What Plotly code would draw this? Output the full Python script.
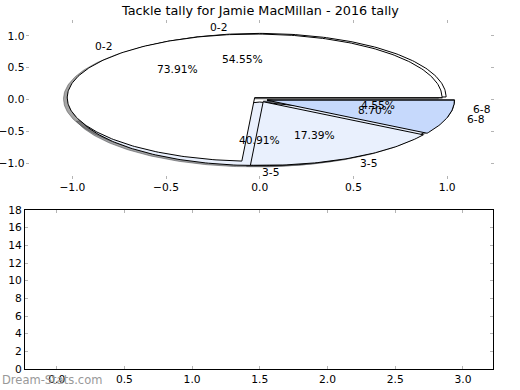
import numpy as np
import plotly.graph_objects as go

# ---- data ----
title_text = "Tackle tally for Jamie MacMillan - 2016 tally"
labels = ["0-2", "3-5", "6-8"]
pie1_values = [12, 9, 1]    # 54.55%, 40.91%, 4.55%
pie2_values = [17, 4, 2]    # 73.91%, 17.39%, 8.70%
top_ticks = [-1.0, -0.5, 0.0, 0.5, 1.0]
bottom_xticks = [0.0, 0.5, 1.0, 1.5, 2.0, 2.5, 3.0]
bottom_yticks = [0, 2, 4, 6, 8, 10, 12, 14, 16, 18]
watermark = "Dream-Stats.com"

# ---- style ----
wedge_colors = ["#ffffff", "#e9f0fd", "#c6d9fc"]
explode = 0.04
label_distance = 1.1
pct_distance = 0.6
shadow_off = -0.02
FONT = "DejaVu Sans"
FS = 10.7
tick_grey = "#b4b4b4"

fig = go.Figure()


def pie_geometry(values):
    total = float(sum(values))
    out = []
    start = 0.0
    for v in values:
        frac = v / total
        end = start + 360.0 * frac
        mid = np.radians((start + end) / 2.0)
        dx, dy = explode * np.cos(mid), explode * np.sin(mid)
        out.append((start, end, mid, dx, dy, frac))
        start = end
    return out


def wedge_xy(t1, t2, cx, cy):
    n = max(int((t2 - t1) / 1.0) + 2, 4)
    t = np.radians(np.linspace(t1, t2, n))
    xs = np.concatenate([[cx], cx + np.cos(t), [cx]])
    ys = np.concatenate([[cy], cy + np.sin(t), [cy]])
    return xs, ys


pies = [pie_geometry(pie1_values), pie_geometry(pie2_values)]

# shadows (drawn beneath all wedges)
for geo in pies:
    for i, (t1, t2, mid, dx, dy, frac) in enumerate(geo):
        xs, ys = wedge_xy(t1, t2, dx + shadow_off, dy + shadow_off)
        h = wedge_colors[i].lstrip("#")
        r, g, b = (int(int(h[k:k + 2], 16) * 0.3) for k in (0, 2, 4))
        col = f"rgba({r},{g},{b},0.5)"
        fig.add_trace(go.Scatter(x=xs, y=ys, mode="lines", fill="toself",
                                 fillcolor=col, line=dict(color=col, width=1),
                                 hoverinfo="skip", showlegend=False,
                                 xaxis="x", yaxis="y"))

annotations = []
for geo in pies:
    for i, (t1, t2, mid, dx, dy, frac) in enumerate(geo):
        xs, ys = wedge_xy(t1, t2, dx, dy)
        fig.add_trace(go.Scatter(x=xs, y=ys, mode="lines", fill="toself",
                                 fillcolor=wedge_colors[i],
                                 line=dict(color="black", width=1),
                                 hoverinfo="skip", showlegend=False,
                                 xaxis="x", yaxis="y"))
        lx = dx + label_distance * np.cos(mid)
        ly = dy + label_distance * np.sin(mid)
        annotations.append(dict(x=lx, y=ly, xref="x", yref="y", text=labels[i],
                                showarrow=False,
                                xanchor="left" if lx > -1e-6 else "right",
                                yanchor="middle", font=dict(family=FONT, size=FS, color="black")))
        px = dx + pct_distance * np.cos(mid)
        py = dy + pct_distance * np.sin(mid)
        annotations.append(dict(x=px, y=py, xref="x", yref="y", text=f"{frac*100:.2f}%",
                                showarrow=False, xanchor="center", yanchor="middle",
                                font=dict(family=FONT, size=FS, color="black")))

annotations.append(dict(x=0.5, y=1 - 10 / 390, xref="paper", yref="paper", text=title_text,
                        showarrow=False, xanchor="center", yanchor="middle",
                        font=dict(family=FONT, size=12.8, color="black")))
annotations.append(dict(x=0.0, y=1 - 380 / 390, xref="paper", yref="paper", text=watermark,
                        showarrow=False, xanchor="left", yanchor="middle",
                        font=dict(family=FONT, size=11.5, color="#999999")))

axis_common = dict(showgrid=False, zeroline=False, ticks="inside", ticklen=3,
                   tickcolor=tick_grey, tickwidth=1, automargin=False,
                   tickfont=dict(family=FONT, size=FS, color="black"))

fig.update_layout(
    template="none",
    width=520, height=390, autosize=False,
    margin=dict(l=0, r=0, t=0, b=0, pad=0),
    paper_bgcolor="white", plot_bgcolor="white",
    showlegend=False,
    annotations=annotations,
    xaxis=dict(domain=[25.5 / 520, 494 / 520], range=[-1.25, 1.25], anchor="y",
               tickvals=top_ticks, tickformat=".1f", showline=False, mirror="ticks",
               **axis_common),
    yaxis=dict(domain=[1 - 179 / 390, 1 - 20 / 390], range=[-1.25, 1.25], anchor="x",
               tickvals=top_ticks, tickformat=".1f", showline=False, mirror="ticks",
               **axis_common),
    xaxis2=dict(domain=[25 / 520, 493 / 520], range=[-0.234, 3.222], anchor="y2",
                tickvals=bottom_xticks, tickformat=".1f", showline=True, linecolor="black",
                linewidth=1, mirror="ticks", **axis_common),
    yaxis2=dict(domain=[1 - 369 / 390, 1 - 210 / 390], range=[0, 18], anchor="x2",
                tickvals=bottom_yticks, showline=True, linecolor="black",
                linewidth=1, mirror="ticks", **axis_common),
)

# empty bottom axes trace so that the second subplot is drawn
fig.add_trace(go.Scatter(x=[], y=[], xaxis="x2", yaxis="y2", showlegend=False))

fig.write_html("out.html",
               config={"displayModeBar": False},
               post_script="document.body.style.margin='0';document.body.style.padding='0';")
